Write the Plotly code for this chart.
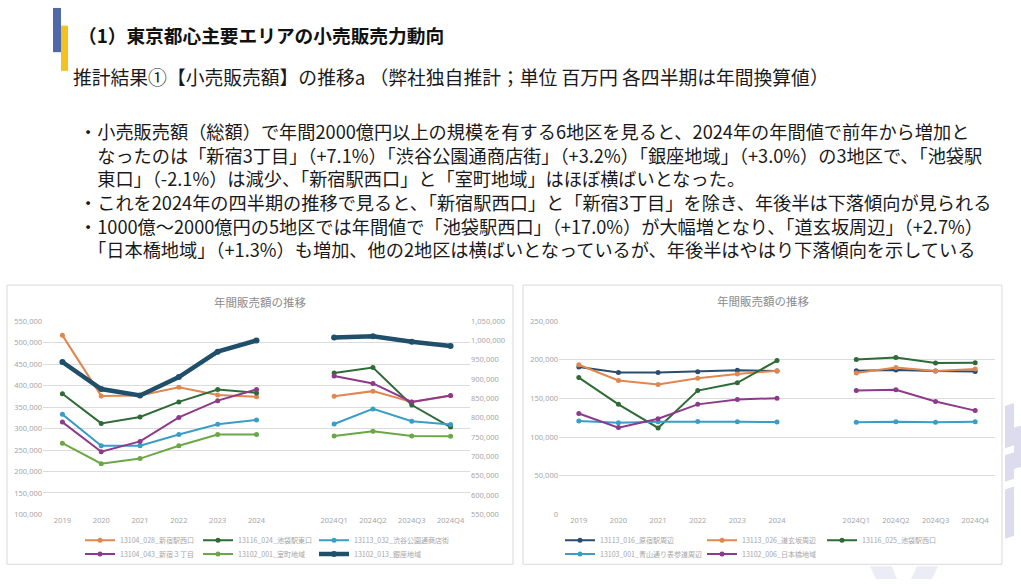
import plotly.graph_objects as go

W, H = 1021, 584

# ---------------- data ----------------
years = ["2019", "2020", "2021", "2022", "2023", "2024"]
quarters = ["2024Q1", "2024Q2", "2024Q3", "2024Q4"]
gap_label = [" "]

# left chart (annual on left axis, quarterly on right axis)
left_names = ["13104_028_新宿駅西口", "13116_024_池袋駅東口", "13113_032_渋谷公園通商店街",
              "13104_043_新宿３丁目", "13102_001_室町地域", "13102_013_銀座地域"]
shinjuku_nishi = [517000, 376000, 377000, 396000, 378000, 374000]
ikebukuro_higashi = [381000, 312000, 327000, 362000, 391000, 383000]
shibuya_koen = [333000, 260000, 260000, 286000, 310000, 320000]
shinjuku3 = [315000, 246000, 270000, 326000, 365000, 391000]
muromachi = [266000, 218000, 230000, 260000, 286000, 286000]
ginza = [455000, 392000, 377000, 420000, 479000, 505000]

shinjuku_nishi_q = [856000, 869000, 841000, 857000]
ikebukuro_higashi_q = [916000, 930000, 833000, 776000]
shibuya_koen_q = [784000, 823000, 791000, 783000]
shinjuku3_q = [908000, 889000, 841000, 858000]
muromachi_q = [753000, 765000, 753000, 752000]
ginza_q = [1008000, 1011000, 997000, 986000]

# right chart
right_names = ["13113_016_原宿駅周辺", "13113_026_道玄坂周辺", "13116_025_池袋駅西口",
               "13103_001_青山通り表参道周辺", "13102_006_日本橋地域"]
harajuku = [190700, 183500, 183500, 184700, 186400, 185600]
dogenzaka = [193600, 173300, 168200, 176300, 181800, 186000]
ikebukuro_nishi = [177000, 142400, 111900, 160200, 170300, 199000]
aoyama = [120800, 118600, 119900, 120300, 119900, 119500]
nihonbashi = [130500, 112300, 123700, 142400, 148700, 150400]

harajuku_q = [186000, 186900, 185600, 185000]
dogenzaka_q = [183000, 190000, 185600, 188000]
ikebukuro_nishi_q = [200400, 203000, 195800, 196200]
aoyama_q = [119100, 119900, 119100, 119900]
nihonbashi_q = [160200, 161400, 146200, 134300]

left_ticks = list(range(100000, 550001, 50000))
left2_ticks = list(range(550000, 1050001, 50000))
right_ticks = list(range(0, 250001, 50000))

title_text = "（1）東京都心主要エリアの小売販売力動向"
subtitle_text = "推計結果①【小売販売額】の推移a （弊社独自推計；単位 百万円 各四半期は年間換算値）"
body_lines = [
    "・小売販売額（総額）で年間2000億円以上の規模を有する6地区を見ると、2024年の年間値で前年から増加と",
    "　なったのは「新宿3丁目」（+7.1%）「渋谷公園通商店街」（+3.2%）「銀座地域」（+3.0%）の3地区で、「池袋駅",
    "　東口」（-2.1%）は減少、「新宿駅西口」と「室町地域」はほぼ横ばいとなった。",
    "・これを2024年の四半期の推移で見ると、「新宿駅西口」と「新宿3丁目」を除き、年後半は下落傾向が見られる",
    "・1000億～2000億円の5地区では年間値で「池袋駅西口」（+17.0%）が大幅増となり、「道玄坂周辺」（+2.7%）",
    "　「日本橋地域」（+1.3%）も増加、他の2地区は横ばいとなっているが、年後半はやはり下落傾向を示している",
]
chart_title = "年間販売額の推移"

# ---------------- styles ----------------
C_ORANGE = "#E0874F"
C_DGREEN = "#2E6B36"
C_CYAN = "#3A9DC6"
C_PURPLE = "#8E3A8C"
C_LGREEN = "#6AA846"
C_NAVY = "#1F4F6B"
C_NAVY2 = "#2A4D6E"
TICK = dict(family="Noto Sans", size=7.5, color="#a6a6a6")
GRID = "#dcdcdc"
JP = "Noto Sans CJK JP"


def px(x):
    return x / W


def py(y):
    return 1 - y / H


# legend slot positions (left edge px, row centre px)
ROW1, ROW2 = 544.7, 558.5
left_slots = [(80, ROW1), (198, ROW1), (314, ROW1), (80, ROW2), (198, ROW2), (314, ROW2)]
right_slots = [(560, ROW1), (702, ROW1), (822, ROW1), (560, ROW2), (702, ROW2)]

fig = go.Figure()
leg_font = dict(family=JP, size=7, color="#a6a6a6")
legend_layouts = {}
leg_idx = 0


def next_legend(slot):
    global leg_idx
    leg_idx += 1
    key = "legend" if leg_idx == 1 else f"legend{leg_idx}"
    legend_layouts[key] = dict(x=px(slot[0]), y=py(slot[1]), xanchor="left", yanchor="middle",
                               orientation="h", font=leg_font, bgcolor="rgba(0,0,0,0)",
                               borderwidth=0, itemwidth=30)
    return key


left_series = [
    (left_names[0], shinjuku_nishi, shinjuku_nishi_q, C_ORANGE, 2),
    (left_names[1], ikebukuro_higashi, ikebukuro_higashi_q, C_DGREEN, 2),
    (left_names[2], shibuya_koen, shibuya_koen_q, C_CYAN, 2),
    (left_names[3], shinjuku3, shinjuku3_q, C_PURPLE, 2),
    (left_names[4], muromachi, muromachi_q, C_LGREEN, 2),
    (left_names[5], ginza, ginza_q, C_NAVY, 4.5),
]
for i, (name, ann_v, q, col, lw) in enumerate(left_series):
    ms = 6 if lw > 3 else 5
    lg = next_legend(left_slots[i])
    fig.add_trace(go.Scatter(
        x=years + gap_label, y=ann_v + [None], name=name, mode="lines+markers",
        line=dict(color=col, width=lw), marker=dict(color=col, size=ms),
        xaxis="x", yaxis="y", legend=lg, legendgroup=name))
    fig.add_trace(go.Scatter(
        x=quarters, y=q, name=name, mode="lines+markers",
        line=dict(color=col, width=lw), marker=dict(color=col, size=ms),
        xaxis="x", yaxis="y2", showlegend=False, legendgroup=name))

right_series = [
    (right_names[0], harajuku, harajuku_q, C_NAVY2),
    (right_names[1], dogenzaka, dogenzaka_q, C_ORANGE),
    (right_names[2], ikebukuro_nishi, ikebukuro_nishi_q, C_DGREEN),
    (right_names[3], aoyama, aoyama_q, C_CYAN),
    (right_names[4], nihonbashi, nihonbashi_q, C_PURPLE),
]
for i, (name, ann_v, q, col) in enumerate(right_series):
    lg = next_legend(right_slots[i])
    fig.add_trace(go.Scatter(
        x=years + gap_label + quarters, y=ann_v + [None] + q, name=name,
        mode="lines+markers", line=dict(color=col, width=2),
        marker=dict(color=col, size=5), xaxis="x2", yaxis="y3", legend=lg))

cat_order = years + gap_label + quarters
ydom = [py(518.3), py(321.7)]

fig.update_layout(
    width=W, height=H, margin=dict(l=0, r=0, t=0, b=0),
    paper_bgcolor="white", plot_bgcolor="rgba(0,0,0,0)",
    xaxis=dict(domain=[px(43), px(470)], type="category", categoryorder="array",
               categoryarray=cat_order, range=[-0.5, 10.5], showgrid=False,
               showline=False, zeroline=False, ticks="", tickfont=TICK, anchor="y"),
    yaxis=dict(domain=ydom, range=[100000, 550000], tickvals=left_ticks,
               tickformat=",", showgrid=True, gridcolor=GRID, gridwidth=1,
               zeroline=False, showline=False, ticks="", tickfont=TICK, anchor="x"),
    yaxis2=dict(overlaying="y", side="right", range=[550000, 1050000],
                tickvals=left2_ticks, tickformat=",", showgrid=False,
                zeroline=False, showline=False, ticks="", tickfont=TICK, anchor="x"),
    xaxis2=dict(domain=[px(559), px(995)], type="category", categoryorder="array",
                categoryarray=cat_order, range=[-0.5, 10.5], showgrid=False,
                showline=False, zeroline=False, ticks="", tickfont=TICK, anchor="y3"),
    yaxis3=dict(domain=ydom, range=[0, 250000], tickvals=right_ticks,
                tickformat=",", showgrid=True, gridcolor=GRID, gridwidth=1,
                zeroline=False, showline=False, ticks="", tickfont=TICK, anchor="x2"),
    showlegend=True,
    **legend_layouts,
)

# ---------------- shapes ----------------
shapes = []
shapes.append(dict(type="rect", xref="paper", yref="paper", x0=px(7), x1=px(513),
                   y0=py(569), y1=py(285), line=dict(color="#d9d9d9", width=1),
                   fillcolor="rgba(0,0,0,0)", layer="below"))
shapes.append(dict(type="rect", xref="paper", yref="paper", x0=px(523), x1=px(1002),
                   y0=py(569), y1=py(285), line=dict(color="#d9d9d9", width=1),
                   fillcolor="rgba(0,0,0,0)", layer="below"))
shapes.append(dict(type="rect", xref="paper", yref="paper", x0=px(53), x1=px(61),
                   y0=py(48), y1=py(3), line=dict(width=0), fillcolor="#4F69A8"))
shapes.append(dict(type="rect", xref="paper", yref="paper", x0=px(61), x1=px(68),
                   y0=py(67), y1=py(21), line=dict(width=0), fillcolor="#F3C21F"))


def poly(pts, color="#e4e4f2"):
    d = "M " + " L ".join(f"{px(a):.5f},{py(b):.5f}" for a, b in pts) + " Z"
    return dict(type="path", xref="paper", yref="paper", path=d,
                fillcolor=color, line=dict(width=0), layer="below")


shapes.append(poly([(1005, 408), (1014, 405), (1014, 448), (1005, 451)], "#dcdcee"))
shapes.append(poly([(1005, 458), (1014, 455), (1014, 482), (1005, 485)], "#dcdcee"))
shapes.append(poly([(1005, 493), (1014, 490), (1014, 540), (1005, 543)], "#dcdcee"))
shapes.append(poly([(1014, 430), (1021, 428), (1021, 470), (1014, 472)], "#dcdcee"))
shapes.append(poly([(870, 571), (892, 571), (897, 584), (876, 584)], "#ececf6"))
shapes.append(poly([(917, 571), (938, 571), (932, 584), (911, 584)], "#ececf6"))
fig.update_layout(shapes=shapes)

# ---------------- texts ----------------
ann = []


def text(x, y, s, size, color="#1a1a1a", bold=False, family=JP, anchor="left"):
    ann.append(dict(x=px(x), y=py(y), xref="paper", yref="paper",
                    text=(f"<b>{s}</b>" if bold else s), align="left",
                    showarrow=False, xanchor=anchor, yanchor="middle",
                    font=dict(family=family, size=size, color=color)))


text(76, 30, title_text, 18.7, color="#111111", bold=True)
text(71, 73, subtitle_text, 18.8)
text(77, 188.5, "<br>".join(body_lines), 18.2)
text(260, 302, chart_title, 11.5, color="#8c8c8c", anchor="center")
text(763, 301, chart_title, 11.5, color="#8c8c8c", anchor="center")

fig.update_layout(annotations=ann)

fig.write_html("out.html", config={"displayModeBar": False},
               post_script="document.body.style.margin='0';document.body.style.overflow='hidden';")
